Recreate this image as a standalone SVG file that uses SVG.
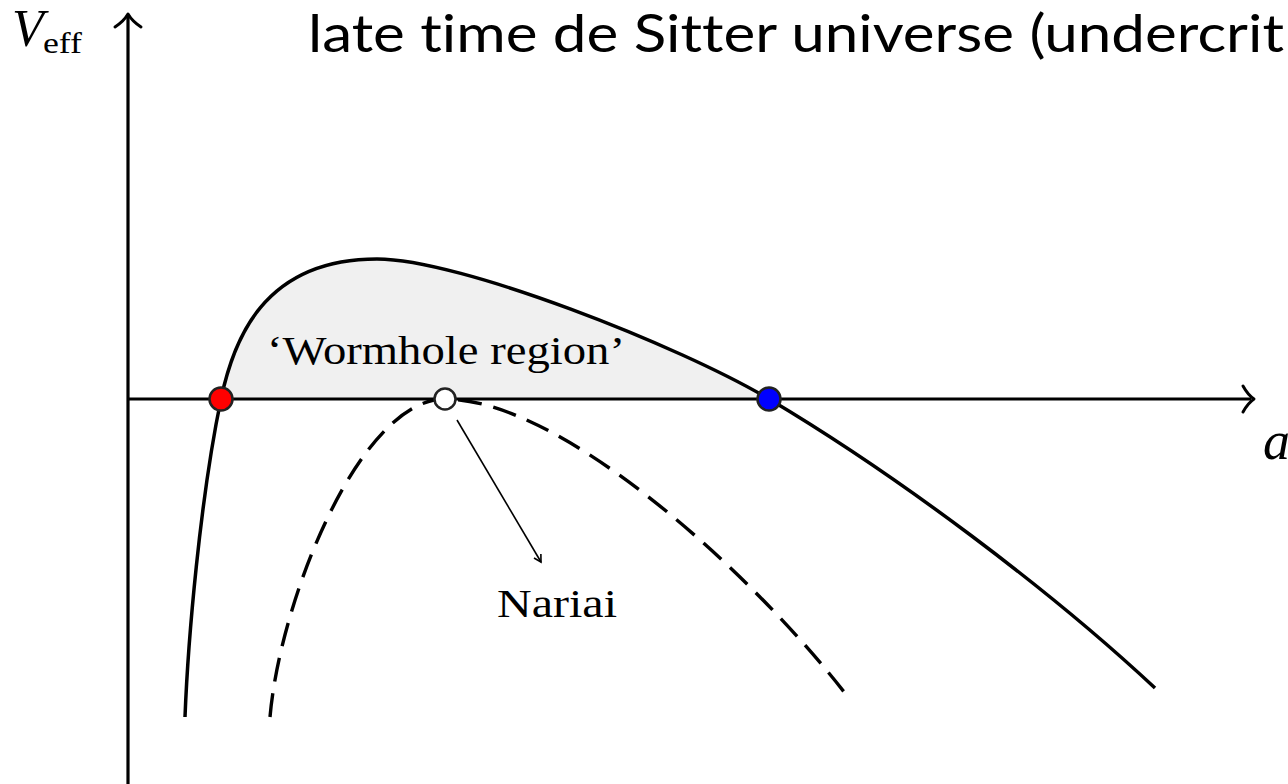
<svg xmlns="http://www.w3.org/2000/svg" width="1288" height="784" viewBox="0 0 1288 784">
<style>
.axis{stroke:#000;stroke-width:3.2;fill:none}
.head{stroke:#000;stroke-width:3;fill:none;stroke-linecap:round;stroke-linejoin:round}
.curve{stroke:#000;stroke-width:3.5;fill:none;stroke-linecap:butt}
.dash{stroke:#000;stroke-width:3.4;fill:none;stroke-dasharray:24 12}
.math{font-family:"Liberation Serif","DejaVu Serif",serif;fill:#000}
.title{font-family:"Lato","Open Sans","Noto Sans",sans-serif;fill:#000;font-variant-ligatures:none;font-feature-settings:"liga" 0,"clig" 0,"dlig" 0}
.dot{stroke:#222;stroke-width:2.5}
</style>
<defs>
<marker id="arr" markerWidth="10" markerHeight="10" refX="8" refY="5" orient="auto" markerUnits="userSpaceOnUse">
<path d="M1,1 L8,5 L1,9" fill="none" stroke="#000" stroke-width="1.6"/>
</marker>
</defs>
<rect width="1288" height="784" fill="#fff"/>
<g id="region">
<path d="M221,399 C233,342 262,259 377,259 C460,259 680,346 769,399 Z" fill="#f0f0f0"/>
</g>
<g id="axes">
<line class="axis" x1="128" y1="784" x2="128" y2="16"/>
<path class="head" d="M115,27 Q124,21 128,14 Q132,21 141,27"/>
<line class="axis" x1="128" y1="399" x2="1251" y2="399"/>
<path class="head" d="M1243,386 Q1248,395 1254,399 Q1248,403 1243,412"/>
</g>
<g id="connectors">
<path id="veff-curve" class="curve" d="M185,717 C188,640 200,500 221,399 C233,342 262,259 377,259 C460,259 680,346 769,399 C900,477 1050,590 1155,688"/>
<path id="nariai-curve" class="dash" d="M270,717 C280,600 360,399 445,399 C560,399 750,570 848,697"/>
<line id="nariai-arrow" x1="457" y1="420" x2="541" y2="562" stroke="#000" stroke-width="1.6" marker-end="url(#arr)"/>
</g>
<g id="red-point"><circle class="dot" cx="221" cy="399" r="11.5" fill="#ff0000"/></g>
<g id="nariai-point"><circle class="dot" cx="445" cy="399" r="10.5" fill="#fff"/></g>
<g id="blue-point"><circle class="dot" cx="769" cy="399" r="11.5" fill="#0000ff"/></g>
<g id="labels">
<text class="math" x="12" y="46" font-size="52" font-style="italic">V</text>
<text class="math" x="43" y="53" font-size="30" textLength="39" lengthAdjust="spacingAndGlyphs">eff</text>
<text class="math" x="1263" y="459" font-size="54" font-style="italic">a</text>
<text id="wormhole-label" class="math" x="267" y="364" font-size="40" textLength="358" lengthAdjust="spacingAndGlyphs">‘Wormhole region’</text>
<text id="nariai-label" class="math" x="497" y="617" font-size="40" textLength="120" lengthAdjust="spacingAndGlyphs">Nariai</text>
<text id="title" class="title" x="308" y="52" font-size="53" textLength="976" lengthAdjust="spacingAndGlyphs">late time de Sitter universe (undercrit</text>
</g>
</svg>
